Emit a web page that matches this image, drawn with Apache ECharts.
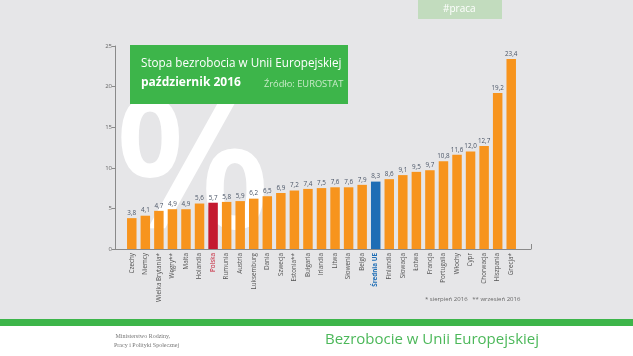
<!DOCTYPE html>
<html><head><meta charset="utf-8">
<script src="https://cdn.jsdelivr.net/npm/echarts@6/dist/echarts.min.js"></script>
<style>html,body{margin:0;padding:0;}#c{width:633px;height:356px;}</style>
</head><body><div id="c"></div>
<script>
const categories = ['Czechy','Niemcy','Wielka Brytania*','Węgry**','Malta','Holandia','Polska','Rumunia','Austria','Luksemburg','Dania','Szwecja','Estonia**','Bułgaria','Irlandia','Litwa','Słowenia','Belgia','Średnia UE','Finlandia','Słowacja','Łotwa','Francja','Portugalia','Włochy','Cypr','Chorwacja','Hiszpania','Grecja*'];
const values = [3.8,4.1,4.7,4.9,4.9,5.6,5.7,5.8,5.9,6.2,6.5,6.9,7.2,7.4,7.5,7.6,7.6,7.9,8.3,8.6,9.1,9.5,9.7,10.8,11.6,12.0,12.7,19.2,23.4];
const yTicks = [0,5,10,15,20,25];
const highlight = {'Polska':'#c41a30','Średnia UE':'#1e6db5'};

const chart = echarts.init(document.getElementById('c'), null, {renderer:'canvas'});
const F = "'Open Sans', sans-serif";
chart.setOption({
  backgroundColor:'#e6e6e8',
  animation:false,
  textStyle:{fontFamily:F},
  grid:[
    {left:125, right:115, top:46, bottom:107},
    {left:115, right:102, top:46, bottom:107}
  ],
  xAxis:[
    {type:'category', gridIndex:0, data:categories,
     axisLine:{show:false}, axisTick:{show:false},
     axisLabel:{rotate:90, fontSize:6.3, color:'#555', margin:4, interval:0,
       formatter:function(v){ if(v==='Polska') return '{p|'+v+'}'; if(v==='Średnia UE') return '{s|'+v+'}'; return v; },
       rich:{p:{color:'#c41a30', fontSize:6.3}, s:{color:'#1e6db5', fontSize:6.3, fontWeight:'bold'}}}},
    {type:'value', gridIndex:1, min:0, max:1, interval:1,
     axisLine:{show:true, lineStyle:{color:'#8a8a8a', width:1}},
     axisTick:{show:true, inside:true, length:5, lineStyle:{color:'#8a8a8a'}},
     axisLabel:{show:false}, splitLine:{show:false}}
  ],
  yAxis:[
    {type:'value', gridIndex:0, min:0, max:25, interval:5, offset:10,
     axisLine:{show:true, lineStyle:{color:'#8a8a8a', width:1}},
     axisTick:{show:true, length:3, lineStyle:{color:'#8a8a8a'}},
     axisLabel:{fontSize:6, color:'#666', margin:3, formatter:function(v){return yTicks.indexOf(v)>=0?String(v):'';}},
     splitLine:{show:false}},
    {type:'value', gridIndex:1, show:false, min:0, max:1}
  ],
  series:[{
    type:'bar', xAxisIndex:0, yAxisIndex:0, barWidth:'70%', z:5,
    data: values.map(function(v,i){ return {value:v, itemStyle:{color: highlight[categories[i]] || '#f7941d'}}; }),
    label:{show:true, position:'top', distance:2, fontSize:6.3, color:'#4a5566',
      formatter:function(p){ return p.value.toFixed(1).replace('.',','); }}
  }],
  graphic:[
    {type:'text', z:-1, left:114, top:85, style:{text:'%', fontSize:182, fontWeight:600, fontFamily:F, fill:'#ffffff'}},
    {type:'rect', z:-1, shape:{x:0,y:319,width:633,height:7}, style:{fill:'#3db54a'}},
    {type:'rect', z:-1, shape:{x:0,y:326,width:633,height:30}, style:{fill:'#ffffff'}},
    {type:'rect', z:-1, shape:{x:418,y:0,width:84,height:19}, style:{fill:'#c2dcbe'}},
    {type:'text', z:1, left:443, top:4, style:{text:'#praca', fontSize:10, fontFamily:F, fill:'#ffffff'}},
    {type:'rect', z:10, shape:{x:130,y:45,width:218,height:59}, style:{fill:'#3db54a'}},
    {type:'text', z:11, left:141, top:58, style:{text:'Stopa bezrobocia w Unii Europejskiej', fontSize:11.7, fontFamily:F, fill:'#ffffff'}},
    {type:'text', z:11, left:141, top:77, style:{text:'październik 2016', fontSize:12, fontWeight:'bold', fontFamily:F, fill:'#ffffff'}},
    {type:'text', z:11, left:264, top:80, style:{text:'Źródło: EUROSTAT', fontSize:9.3, fontFamily:F, fill:'#c9ebc9'}},
    {type:'text', z:1, left:425, top:296, style:{text:'* sierpień 2016   ** wrzesień 2016', fontSize:6, fontFamily:F, fill:'#666'}},
    {type:'text', z:1, left:114, top:332, style:{text:' Ministerstwo Rodziny,\nPracy i Polityki Społecznej', fontSize:6, lineHeight:9, fontFamily:"'Liberation Serif', serif", fill:'#777'}},
    {type:'text', z:1, left:325, top:332, style:{text:'Bezrobocie w Unii Europejskiej', fontSize:15, fontFamily:F, fill:'#4cb85a'}}
  ]
});
</script></body></html>
